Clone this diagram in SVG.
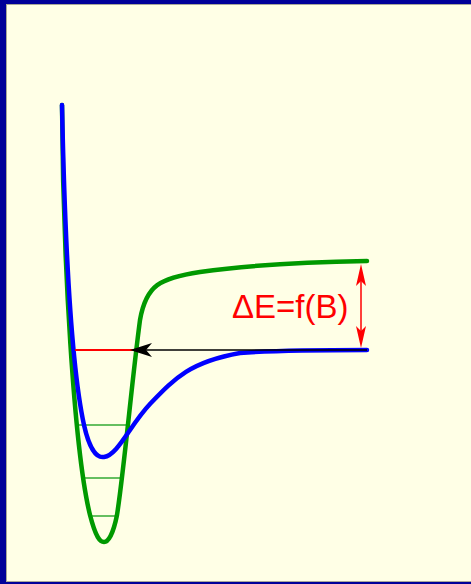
<svg xmlns="http://www.w3.org/2000/svg" width="471" height="584" viewBox="0 0 471 584">
  <style>
    .curve { fill: none; stroke-width: 4.5; stroke-linecap: round; stroke-linejoin: round; }
    .level { stroke: #33aa33; stroke-width: 1.5; }
    .label { font-family: "Liberation Sans", Arial, sans-serif; font-size: 33px; fill: #ff0000; }
  </style>
  <g id="frame">
    <rect x="0" y="0" width="471" height="584" fill="#000099"/>
    <rect x="6" y="4" width="465" height="578" fill="#a8a898"/>
    <rect x="7" y="5" width="464" height="576" fill="#ffffe6"/>
  </g>
  <g id="levels">
    <line class="level" x1="77" y1="425" x2="129" y2="425"/>
    <line class="level" x1="84" y1="478" x2="123" y2="478"/>
    <line class="level" x1="92" y1="516" x2="116" y2="516"/>
  </g>
  <g id="green-curve">
    <path class="curve" stroke="#009900" d="M62,105 C63,260 74,450 90,515 C96,538 100,542 104,542 C108,542 113,535 117,515 C124,470 132,380 140,320 C146,285 160,278 200,272 C250,265 300,262 367,261"/>
  </g>
  <g id="blue-curve">
    <path class="curve" stroke="#0000ff" d="M62,105 C65,250 72,370 84,425 C90,452 98,458 104,457 C118,455 130,425 150,404 C175,378 190,362 240,353 C280,350 320,350 367,350"/>
  </g>
  <g id="connectors">
    <line x1="75" y1="350" x2="134" y2="350" stroke="#ff0000" stroke-width="2"/>
    <line x1="367" y1="350" x2="145" y2="350" stroke="#000000" stroke-width="1.5"/>
    <polygon points="130,350 152,343 146,350 152,357" fill="#000000"/>
    <line x1="361" y1="272" x2="361" y2="340" stroke="#ff0000" stroke-width="1.5"/>
    <path d="M361,264 L366,286 L361,281 L356,286 Z" fill="#ff0000"/>
    <path d="M361,348 L366,326 L361,331 L356,326 Z" fill="#ff0000"/>
  </g>
  <g id="label">
    <text class="label" x="232" y="318">ΔE=f(B)</text>
  </g>
</svg>
